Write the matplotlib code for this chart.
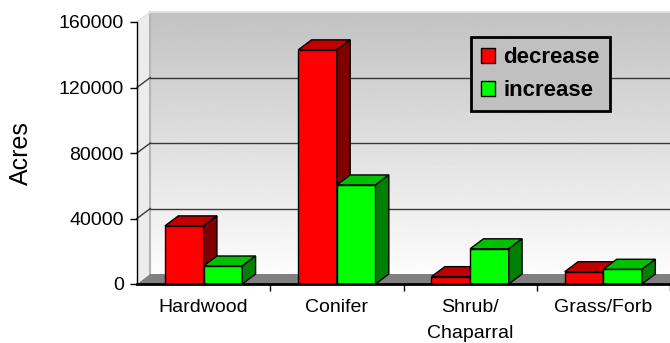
import numpy as np
import matplotlib.pyplot as plt
from matplotlib.patches import Polygon, Patch

plt.rcParams['font.family'] = ['Liberation Sans', 'DejaVu Sans']

categories = ['Hardwood', 'Conifer', 'Shrub/\nChaparral', 'Grass/Forb']
decrease = [35500, 143000, 4500, 7500]
increase = [11000, 60500, 21500, 9000]
yticks = [0, 40000, 80000, 120000, 160000]

# 3-D look: depth offset of the box, in data units
ddx, ddy = 0.1, 6100
bw = 0.29
front = {'decrease': ('#ff0000', '#c00000', '#800000'),
         'increase': ('#00ff00', '#00c000', '#008000')}

fig = plt.figure(figsize=(6.7, 3.43), dpi=100)
ax = fig.add_axes([137 / 670, 59 / 343, 533 / 670, 262 / 343])
xmin, xmax = -0.5, 3.5
ymax = 160000

# back wall with gray -> white gradient
grad = np.linspace(0.76, 0.99, 256).reshape(-1, 1)
ax.imshow(grad, cmap='gray', vmin=0, vmax=1, origin='upper', aspect='auto',
          extent=(xmin + ddx, xmax + ddx + 1, ddy, ymax + ddy),
          zorder=0, clip_on=False)
# left wall
ax.add_patch(Polygon([(xmin, 0), (xmin + ddx, ddy), (xmin + ddx, ymax + ddy), (xmin, ymax)],
                     closed=True, facecolor='#ececec', edgecolor='none', zorder=0.5, clip_on=False))
ax.plot([xmin + ddx, xmin + ddx], [ddy, ymax + ddy], color='#b4b4b4', lw=1.5, zorder=0.6, clip_on=False)
# floor
ax.add_patch(Polygon([(xmin, 0), (xmax + 1, 0), (xmax + 1 + ddx, ddy), (xmin + ddx, ddy)],
                     closed=True, facecolor='#808080', edgecolor='none', zorder=0.7, clip_on=False))

# gridlines on the walls
for v in yticks[1:-1]:
    ax.plot([xmin + ddx, xmax + 1], [v + ddy, v + ddy], color='#3a3a3a', lw=1, zorder=1, clip_on=False)
    ax.plot([xmin, xmin + ddx], [v, v + ddy], color='#3a3a3a', lw=1, zorder=1, clip_on=False)
ax.plot([xmin, xmin + ddx, xmax + 1], [ymax, ymax + ddy, ymax + ddy], color='#e4e4e4', lw=1.2,
        zorder=1, clip_on=False)

# bars
for i in range(len(categories)):
    for j, (name, vals) in enumerate([('decrease', decrease), ('increase', increase)]):
        fc, tc, sc = front[name]
        x0 = i - bw + j * bw
        x1 = x0 + bw
        h = vals[i]
        z = 3 + j
        ax.bar(x0, h, width=bw, align='edge', color=fc, edgecolor='black', lw=1, zorder=z)
        ax.add_patch(Polygon([(x0, h), (x1, h), (x1 + ddx, h + ddy), (x0 + ddx, h + ddy)],
                             closed=True, facecolor=tc, edgecolor='black', lw=1, zorder=z, clip_on=False))
        ax.add_patch(Polygon([(x1, 0), (x1, h), (x1 + ddx, h + ddy), (x1 + ddx, ddy)],
                             closed=True, facecolor=sc, edgecolor='black', lw=1, zorder=z, clip_on=False))

ax.set_xlim(xmin, xmax)
ax.set_ylim(0, ymax)
ax.set_facecolor('none')
for s in ['top', 'right']:
    ax.spines[s].set_visible(False)
ax.spines['left'].set_linewidth(1)
ax.spines['bottom'].set_linewidth(2)
ax.spines['bottom'].set_zorder(6)

ax.set_yticks(yticks)
ax.set_yticklabels([str(v) for v in yticks])
ax.tick_params(axis='y', direction='out', length=5, width=1, pad=4.5, labelsize=14)
ax.set_xticks([0.5, 1.5, 2.5, 3.5])
ax.set_xticklabels([])
ax.set_xticks(range(len(categories)), minor=True)
ax.set_xticklabels(categories, minor=True)
ax.tick_params(axis='x', which='major', direction='out', length=5, width=1)
ax.tick_params(axis='x', which='minor', length=0, pad=11, labelsize=14)
for t in ax.get_xticklabels(minor=True):
    t.set_linespacing(1.7)

ax.set_ylabel('Acres', fontsize=18, labelpad=18.5)

handles = [Patch(facecolor='#ff0000', edgecolor='black'), Patch(facecolor='#00ff00', edgecolor='black')]
leg = fig.legend(handles, ['decrease', 'increase'], loc='upper left',
                 bbox_to_anchor=(471 / 670, 306 / 343), bbox_transform=fig.transFigure,
                 prop={'weight': 'bold', 'size': 16}, fancybox=False, framealpha=1,
                 handlelength=0.65, handleheight=0.65, handletextpad=0.35,
                 labelspacing=0.55, borderpad=0.45, borderaxespad=0)
leg.get_frame().set_facecolor('#c0c0c0')
leg.get_frame().set_edgecolor('black')
leg.get_frame().set_linewidth(2)

fig.savefig('out.png', dpi=100)
